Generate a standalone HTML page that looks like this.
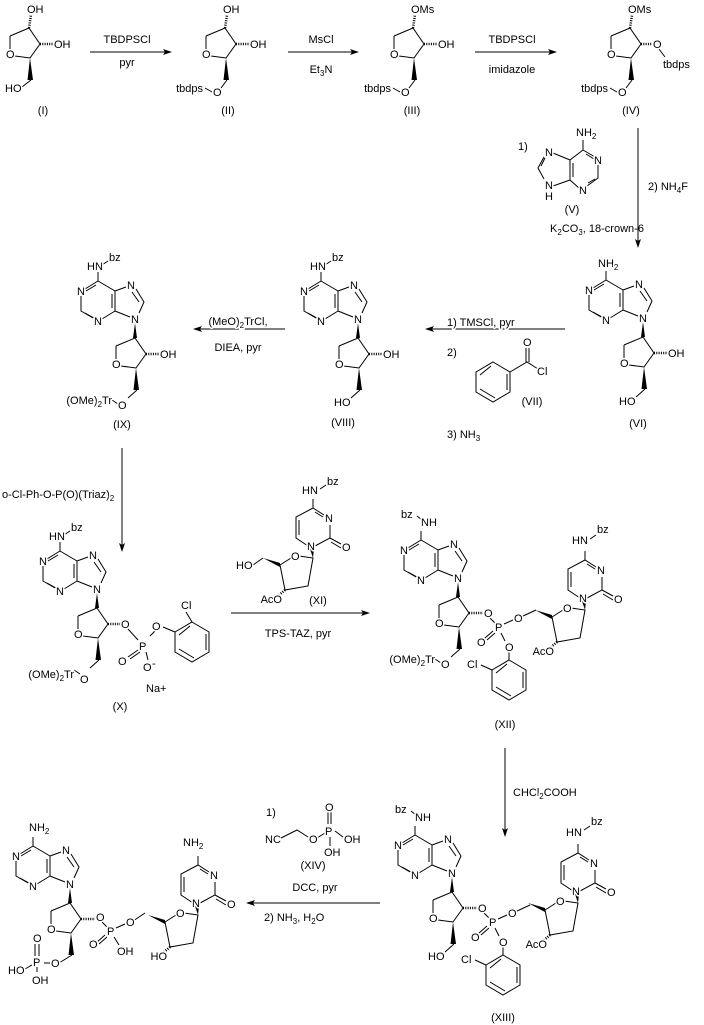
<!DOCTYPE html>
<html><head><meta charset="utf-8">
<style>
html,body{margin:0;padding:0;background:#fff;}
svg{display:block;}
text{font-family:"Liberation Sans",Arial,sans-serif;font-size:11px;fill:#000;stroke:#fff;stroke-width:3px;paint-order:stroke;stroke-linejoin:round;}
.ns text{stroke:none;}
.b{fill:none;stroke:#000;stroke-width:1;}
.h{fill:none;stroke:#000;stroke-width:2.5;stroke-dasharray:1,1.3;}
.w{fill:#000;stroke:none;}
</style></head>
<body>
<svg width="704" height="1025" viewBox="0 0 704 1025" xmlns="http://www.w3.org/2000/svg">
<defs>
  <g id="S">
    <path class="b" d="M10,36 L29,28 L40,44 L30,58 L15,56 M10,49 L10,36"/>
    <polygon class="w" points="30,58 27.5,80 33,80"/>
  </g>
  <g id="A">
    <path class="b" d="M-8,-29 L-21,-21 M-25,-14 L-25,1 L-13,8 M-4,9 L9,1 L9,-19 L-8,-29 M-10,-25 L-20,-19 M-21,3 L-12,8 M6,-16 L6,-2 M9,-19 L20,-23 M30,-21 L38,-8 L33,3 M26,-18 L33,-8 M9,1 L24,7 M-8,-29 L-8,-38"/>
    <polygon class="w" points="29,13 27,28 31,28"/>
  </g>
  <g id="D">
    <polygon class="w" points="-17,-7 0,-2 0,2"/>
    <path class="b" d="M0,0 L11,-7 M19,-9 L33,-7 L28,21 L5,25 L0,0 M28,-19 L16,-27 L16,-48 L33,-57 L44,-50 M50,-40 L50,-27 L35,-19 M50,-27 L61,-21 M51,-23 L61,-17 M19,-30 L19,-45 M35,-53 L43,-48 M33,-57 L33,-66"/>
    <polygon class="w" points="33,-7 30,-16 34,-16"/>
  </g>
  <g id="P6">
    <path class="b" d="M0,0 L17,10 L17,30 L0,40 L-17,30 L-17,10 Z M14,12 L14,28 M2,36 L-13,27 M-13,13 L-2,4"/>
  </g>
</defs>

<!-- ===== Row 1 ===== -->
<!-- I -->
<g transform="translate(0,0)">
  <use href="#S"/>
  <path class="h" d="M29,28 L31,15 M40,44 L53,44"/>
  <path class="b" d="M31,80 L22,87"/>
  <text x="6" y="58">O</text>
  <text x="27" y="13">OH</text>
  <text x="54" y="48">OH</text>
  <text x="5" y="92">HO</text>
  <text x="43" y="114" text-anchor="middle">(I)</text>
</g>
<!-- II -->
<g transform="translate(196,0)">
  <use href="#S"/>
  <path class="h" d="M29,28 L31,15 M40,44 L53,44"/>
  <path class="b" d="M31,80 L25,88 M9,88 L16,92"/>
  <text x="6" y="58">O</text>
  <text x="27" y="13">OH</text>
  <text x="54" y="48">OH</text>
  <text x="17" y="96">O</text>
  <text x="7" y="92" text-anchor="end">tbdps</text>
  <text x="32" y="114" text-anchor="middle">(II)</text>
</g>
<!-- III -->
<g transform="translate(384,0)">
  <use href="#S"/>
  <path class="h" d="M29,28 L31,15 M40,44 L53,44"/>
  <path class="b" d="M31,80 L25,88 M9,88 L16,92"/>
  <text x="6" y="58">O</text>
  <text x="27" y="13">OMs</text>
  <text x="54" y="48">OH</text>
  <text x="17" y="96">O</text>
  <text x="7" y="92" text-anchor="end">tbdps</text>
  <text x="28" y="114" text-anchor="middle">(III)</text>
</g>
<!-- IV -->
<g transform="translate(601,0)">
  <use href="#S"/>
  <path class="h" d="M29,28 L31,15 M40,44 L52,44"/>
  <path class="b" d="M31,80 L25,88 M9,88 L16,92 M58,49 L64,57"/>
  <text x="6" y="58">O</text>
  <text x="27" y="13">OMs</text>
  <text x="52" y="48">O</text>
  <text x="62" y="68">tbdps</text>
  <text x="17" y="96">O</text>
  <text x="7" y="92" text-anchor="end">tbdps</text>
  <text x="30" y="114" text-anchor="middle">(IV)</text>
</g>

<!-- arrows row 1 -->
<g>
  <path class="b" d="M90,52 L166,52 M288,52 L353,52 M475,52 L551,52"/>
  <polygon class="w" points="172,52 163,49 165,52 163,55"/>
  <polygon class="w" points="359,52 350,49 352,52 350,55"/>
  <polygon class="w" points="557,52 548,49 550,52 548,55"/>
  <text x="127" y="43" text-anchor="middle">TBDPSCl</text>
  <text x="127" y="66" text-anchor="middle">pyr</text>
  <text x="321" y="43" text-anchor="middle">MsCl</text>
  <text x="321" y="73" text-anchor="middle">Et<tspan font-size="8" dy="3">3</tspan><tspan dy="-3">N</tspan></text>
  <text x="512" y="43" text-anchor="middle">TBDPSCl</text>
  <text x="512" y="73" text-anchor="middle">imidazole</text>
</g>

<!-- V adenine -->
<g>
  <path class="b" d="M583,150 L595,157 M598,165 L598,178 L587,186 M579,188 L570,180 L570,160 L583,150 M586,154 L594,159 M595,179 L588,183 M573,163 L573,177 M570,160 L553,153 M544,157 L538,168 L544,179 M541,166 L545,158 M570,180 L553,186 M583,150 L583,140"/>
  <text x="594" y="164">N</text>
  <text x="579" y="194">N</text>
  <text x="545" y="156">N</text>
  <text x="545" y="189">N</text>
  <text x="545" y="200">H</text>
  <text x="576" y="136">NH<tspan font-size="8" dy="3">2</tspan></text>
  <text x="518" y="150">1)</text>
  <text x="572" y="213" text-anchor="middle">(V)</text>
  <text x="597" y="232" text-anchor="middle">K<tspan font-size="8" dy="3">2</tspan><tspan dy="-3">CO</tspan><tspan font-size="8" dy="3">3</tspan><tspan dy="-3">, 18-crown-6</tspan></text>
  <text x="648" y="190">2) NH<tspan font-size="8" dy="3">4</tspan><tspan dy="-3">F</tspan></text>
  <path class="b" d="M638,128 L638,242"/>
  <polygon class="w" points="638,248 635,239 638,241 641,239"/>
</g>

<!-- ===== Row 2 ===== -->
<!-- VI -->
<g transform="translate(614,309)">
  <use href="#S"/><use href="#A"/>
  <path class="h" d="M40,44 L53,44"/>
  <path class="b" d="M31,80 L22,88"/>
  <text x="6" y="58">O</text>
  <text x="54" y="48">OH</text>
  <text x="5" y="96">HO</text>
  <text x="-29" y="-15">N</text><text x="-12" y="15">N</text><text x="21" y="-21">N</text><text x="25" y="13">N</text>
  <text x="-16" y="-42">NH<tspan font-size="8" dy="3">2</tspan></text>
  <text x="24" y="118" text-anchor="middle">(VI)</text>
</g>
<!-- VIII -->
<g transform="translate(329,310)">
  <use href="#S"/><use href="#A"/>
  <path class="h" d="M40,44 L53,44"/>
  <path class="b" d="M31,80 L22,88 M-4,-45 L2,-49"/>
  <text x="6" y="58">O</text>
  <text x="54" y="48">OH</text>
  <text x="5" y="96">HO</text>
  <text x="-29" y="-15">N</text><text x="-12" y="15">N</text><text x="21" y="-21">N</text><text x="25" y="13">N</text>
  <text x="-19" y="-40">HN</text>
  <text x="3" y="-49">bz</text>
  <text x="14" y="116" text-anchor="middle">(VIII)</text>
</g>
<!-- IX -->
<g transform="translate(106,310)">
  <use href="#S"/><use href="#A"/>
  <path class="h" d="M40,44 L53,44"/>
  <path class="b" d="M31,80 L22,88 M-4,-45 L2,-49 M6,90 L12,94"/>
  <text x="6" y="58">O</text>
  <text x="54" y="48">OH</text>
  <text x="12" y="99">O</text>
  <text x="6" y="94" text-anchor="end">(OMe)<tspan font-size="8" dy="3">2</tspan><tspan dy="-3">Tr</tspan></text>
  <text x="-29" y="-15">N</text><text x="-12" y="15">N</text><text x="21" y="-21">N</text><text x="25" y="13">N</text>
  <text x="-19" y="-40">HN</text>
  <text x="3" y="-49">bz</text>
  <text x="16" y="118" text-anchor="middle">(IX)</text>
</g>

<!-- row 2 arrows -->
<g>
  <path class="b" d="M565,329 L431,329 M285,329 L199,329"/>
  <polygon class="w" points="425,329 434,326 432,329 434,332"/>
  <polygon class="w" points="193,329 202,326 200,329 202,332"/>
  <text x="238" y="325" text-anchor="middle">(MeO)<tspan font-size="8" dy="3">2</tspan><tspan dy="-3">TrCl,</tspan></text>
  <text x="238" y="351" text-anchor="middle">DIEA, pyr</text>
  <text x="447" y="326">1) TMSCl, pyr</text>
  <text x="447" y="356">2)</text>
  <text x="447" y="438">3) NH<tspan font-size="8" dy="3">3</tspan></text>
  <use href="#P6" x="493" y="362"/>
  <path class="b" d="M510,372 L527,362 L538,369 M526,362 L526,348 M529,362 L529,348"/>
  <text x="523" y="346">O</text>
  <text x="537" y="375">Cl</text>
  <text x="532" y="405" text-anchor="middle">(VII)</text>
</g>

<!-- ===== Row 3 ===== -->
<text x="2" y="498">o-Cl-Ph-O-P(O)(Triaz)<tspan font-size="8" dy="3">2</tspan></text>
<path class="b" d="M122,448 L122,546"/>
<polygon class="w" points="122,552 119,543 122,545 125,543"/>

<!-- X -->
<g transform="translate(68,580)">
  <use href="#S"/><use href="#A"/>
  <path class="b" d="M31,80 L22,88 M-4,-45 L2,-49 M6,90 L12,94"/>
  <text x="6" y="58">O</text>
  <text x="12" y="103">O</text>
  <text x="6" y="98" text-anchor="end">(OMe)<tspan font-size="8" dy="3">2</tspan><tspan dy="-3">Tr</tspan></text>
  <text x="-29" y="-15">N</text><text x="-12" y="15">N</text><text x="21" y="-21">N</text><text x="25" y="13">N</text>
  <text x="-19" y="-40">HN</text>
  <text x="3" y="-49">bz</text>
</g>
<g>
  <path class="h" d="M108,624 L121,624"/>
  <path class="b" d="M128,629 L138,640 M150,636 L156,630 M138,650 L128,657 M140,652 L130,659 M146,652 L148,660 M163,627 L175,632"/>
  <text x="121" y="628">O</text>
  <text x="139" y="650">P</text>
  <text x="152" y="630">O</text>
  <text x="118" y="665">O</text>
  <text x="143" y="671">O</text>
  <text x="152" y="667" font-size="14">-</text>
  <text x="146" y="692">Na+</text>
  <use href="#P6" x="192" y="622"/>
  <path class="b" d="M192,622 L186,612"/>
  <text x="181" y="609">Cl</text>
  <text x="120" y="710" text-anchor="middle">(X)</text>
</g>

<!-- XI -->
<g transform="translate(280,565)">
  <use href="#D"/>
  <path class="h" d="M5,25 L-2,31"/>
  <path class="b" d="M-17,-7 L-27,0"/>
  <text x="11" y="-5">O</text>
  <text x="27" y="-15">N</text>
  <text x="45" y="-43">N</text>
  <text x="62" y="-14">O</text>
  <text x="-44" y="4">HO</text>
  <text x="2" y="38" text-anchor="end">AcO</text>
  <text x="38" y="39" text-anchor="middle">(XI)</text>
  <text x="22" y="-71">HN</text>
  <path class="b" d="M40,-76 L46,-80"/>
  <text x="47" y="-80">bz</text>
</g>
<path class="b" d="M231,613 L364,613"/>
<polygon class="w" points="370,613 361,610 363,613 361,616"/>
<text x="298" y="637" text-anchor="middle">TPS-TAZ, pyr</text>

<!-- XII -->
<g transform="translate(429,569)">
  <use href="#S"/><use href="#A"/>
  <path class="b" d="M31,80 L22,88 M-12,-53 L-7,-49 M6,90 L12,94"/>
  <text x="6" y="58">O</text>
  <text x="12" y="99">O</text>
  <text x="6" y="94" text-anchor="end">(OMe)<tspan font-size="8" dy="3">2</tspan><tspan dy="-3">Tr</tspan></text>
  <text x="-29" y="-15">N</text><text x="-12" y="15">N</text><text x="21" y="-21">N</text><text x="25" y="13">N</text>
  <text x="-28" y="-51">bz</text>
  <text x="-8" y="-43">NH</text>
  <path class="h" d="M40,44 L54,44"/>
  <path class="b" d="M61,49 L67,55 M64,62 L56,69 M66,64 L58,71 M75,55 L84,51 M92,48 L107,41 M72,64 L76,72 M80,82 L80,91 M63,101 L52,96"/>
  <text x="55" y="48">O</text>
  <text x="66" y="62">P</text>
  <text x="48" y="77">O</text>
  <text x="85" y="53">O</text>
  <text x="76" y="82">O</text>
  <use href="#P6" x="80" y="91"/>
  <text x="38" y="99">Cl</text>
  <text x="76" y="159" text-anchor="middle">(XII)</text>
</g>
<g transform="translate(552,617)">
  <use href="#D"/>
  <path class="h" d="M5,25 L-2,31"/>
  <text x="11" y="-5">O</text>
  <text x="27" y="-15">N</text>
  <text x="45" y="-43">N</text>
  <text x="62" y="-14">O</text>
  <text x="2" y="38" text-anchor="end">AcO</text>
  <text x="20" y="-73">HN</text>
  <path class="b" d="M38,-78 L44,-82"/>
  <text x="45" y="-84">bz</text>
</g>

<!-- XII -> XIII -->
<path class="b" d="M505,748 L505,831"/>
<polygon class="w" points="505,837 502,828 505,830 508,828"/>
<text x="513" y="796">CHCl<tspan font-size="8" dy="3">2</tspan><tspan dy="-3">COOH</tspan></text>

<!-- XIII -->
<g transform="translate(423,864)">
  <use href="#S"/><use href="#A"/>
  <path class="b" d="M31,80 L22,88 M-12,-53 L-7,-49"/>
  <text x="6" y="58">O</text>
  <text x="5" y="96">HO</text>
  <text x="-29" y="-15">N</text><text x="-12" y="15">N</text><text x="21" y="-21">N</text><text x="25" y="13">N</text>
  <text x="-28" y="-51">bz</text>
  <text x="-8" y="-43">NH</text>
  <path class="h" d="M40,44 L54,44"/>
  <path class="b" d="M61,49 L67,55 M64,62 L56,69 M66,64 L58,71 M75,55 L84,51 M92,48 L107,41 M72,64 L76,72 M80,82 L80,91 M63,101 L52,96"/>
  <text x="55" y="48">O</text>
  <text x="66" y="62">P</text>
  <text x="48" y="77">O</text>
  <text x="85" y="53">O</text>
  <text x="76" y="82">O</text>
  <use href="#P6" x="80" y="91"/>
  <text x="38" y="99">Cl</text>
  <text x="80" y="157" text-anchor="middle">(XIII)</text>
</g>
<g transform="translate(545,910)">
  <use href="#D"/>
  <path class="h" d="M5,25 L-2,31"/>
  <text x="11" y="-5">O</text>
  <text x="27" y="-15">N</text>
  <text x="45" y="-43">N</text>
  <text x="62" y="-14">O</text>
  <text x="2" y="38" text-anchor="end">AcO</text>
  <text x="21" y="-74">HN</text>
  <path class="b" d="M39,-80 L45,-84"/>
  <text x="46" y="-85">bz</text>
</g>

<!-- XIII -> final -->
<path class="b" d="M380,903 L252,903"/>
<polygon class="w" points="246,903 255,900 253,903 255,906"/>
<g>
  <text x="266" y="816">1)</text>
  <text x="265" y="843">NC</text>
  <path class="b" d="M281,838 L297,830 L308,837 M317,838 L325,833 M328,824 L328,811 M331,824 L331,811 M335,831 L343,837 M330,837 L330,846"/>
  <text x="309" y="843">O</text>
  <text x="325" y="835">P</text>
  <text x="325" y="811">O</text>
  <text x="344" y="843">OH</text>
  <text x="324" y="856">OH</text>
  <text x="313" y="869" text-anchor="middle">(XIV)</text>
  <text x="315" y="891" text-anchor="middle">DCC, pyr</text>
  <text x="264" y="921">2) NH<tspan font-size="8" dy="3">3</tspan><tspan dy="-3">, H</tspan><tspan font-size="8" dy="3">2</tspan><tspan dy="-3">O</tspan></text>
</g>

<!-- Final product -->
<g transform="translate(41,875)">
  <use href="#S"/><use href="#A"/>
  <path class="b" d="M31,80 L18,88"/>
  <text x="6" y="58">O</text>
  <text x="-29" y="-15">N</text><text x="-12" y="15">N</text><text x="21" y="-21">N</text><text x="25" y="13">N</text>
  <text x="-12" y="-44">NH<tspan font-size="8" dy="3">2</tspan></text>
  <path class="h" d="M40,44 L54,44"/>
  <path class="b" d="M61,47 L67,53 M64,60 L56,67 M66,62 L58,69 M75,53 L84,49 M92,46 L104,38 M73,62 L78,70"/>
  <text x="55" y="46">O</text>
  <text x="66" y="60">P</text>
  <text x="48" y="73">O</text>
  <text x="85" y="51">O</text>
  <text x="76" y="80">OH</text>
</g>
<g>
  <text x="51" y="967">O</text>
  <path class="b" d="M44,963 L50,963 M35,956 L35,944 M39,956 L39,944 M32,965 L25,969 M37,967 L37,972"/>
  <text x="33" y="966">P</text>
  <text x="33" y="942">O</text>
  <text x="8" y="974">HO</text>
  <text x="32" y="984">OH</text>
</g>
<g transform="translate(165,922)">
  <use href="#D"/>
  <path class="h" d="M5,25 L-2,31"/>
  <text x="11" y="-5">O</text>
  <text x="27" y="-15">N</text>
  <text x="45" y="-43">N</text>
  <text x="62" y="-14">O</text>
  <text x="2" y="38" text-anchor="end">HO</text>
  <text x="18" y="-76">NH<tspan font-size="8" dy="3">2</tspan></text>
</g>
</svg>
</body></html>
